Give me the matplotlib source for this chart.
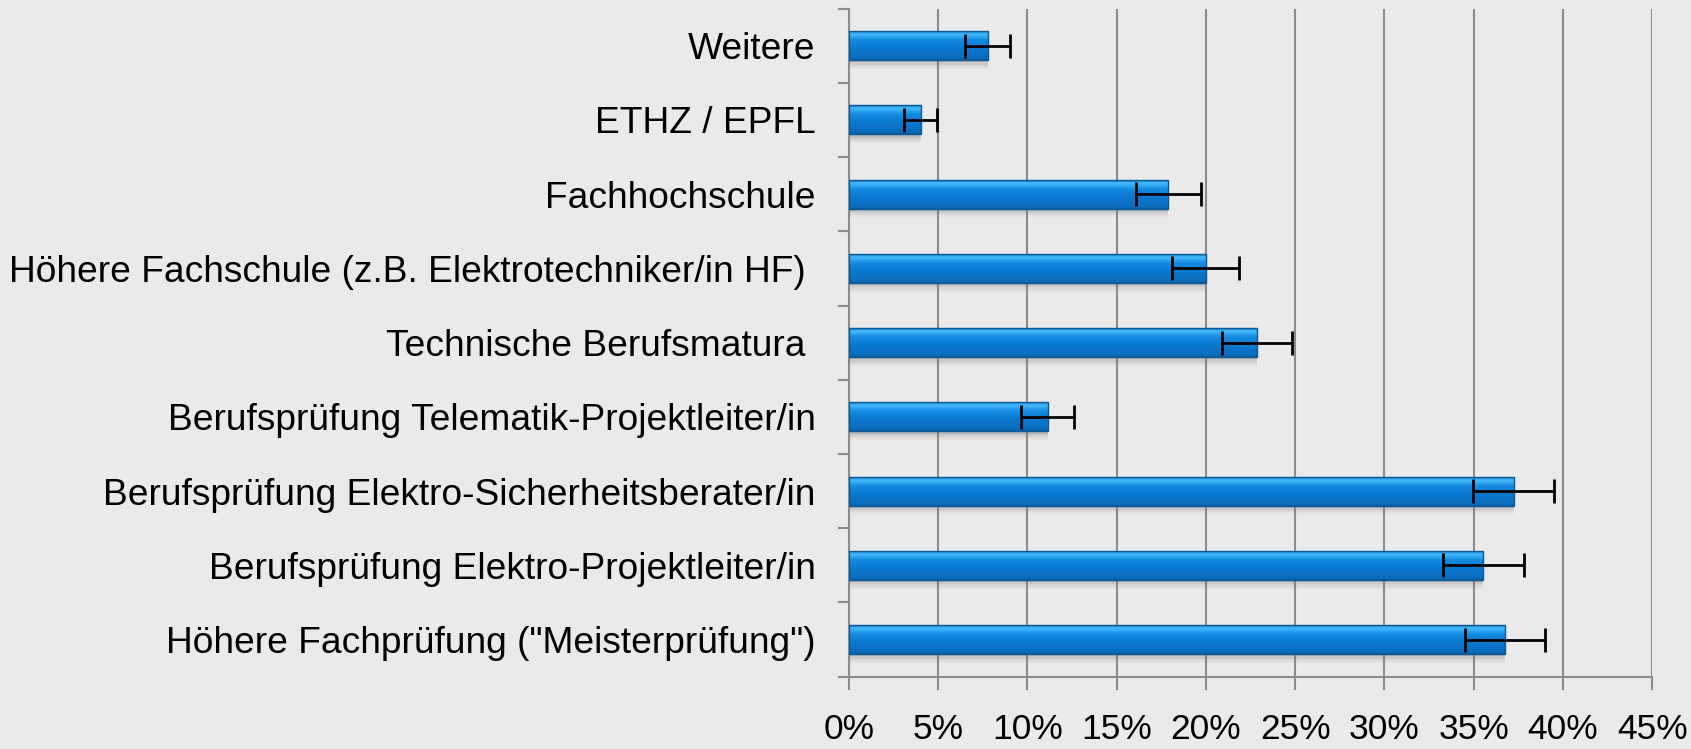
import numpy as np
import matplotlib
matplotlib.use("Agg")
import matplotlib.pyplot as plt
from matplotlib.ticker import FixedLocator
from matplotlib.colors import LinearSegmentedColormap

categories = [
    'Höhere Fachprüfung ("Meisterprüfung")',
    "Berufsprüfung Elektro-Projektleiter/in",
    "Berufsprüfung Elektro-Sicherheitsberater/in",
    "Berufsprüfung Telematik-Projektleiter/in",
    "Technische Berufsmatura ",
    "Höhere Fachschule (z.B. Elektrotechniker/in HF) ",
    "Fachhochschule",
    "ETHZ / EPFL",
    "Weitere",
]
values = [36.75, 35.55, 37.25, 11.15, 22.85, 19.98, 17.9, 4.03, 7.78]
errors = [2.25, 2.25, 2.28, 1.48, 1.97, 1.88, 1.8, 0.93, 1.26]
xtick_values = [0, 5, 10, 15, 20, 25, 30, 35, 40, 45]
xtick_labels = [f"{v}%" for v in xtick_values]

plt.rcParams["font.family"] = ["Liberation Sans", "DejaVu Sans"]
bg = "#EAEAEA"
fig = plt.figure(figsize=(16.91, 7.49), dpi=100, facecolor=bg)
ax = fig.add_axes([0.502, 0.0965, 0.475, 0.892], facecolor=bg)

y = np.arange(len(categories))
h = 0.39

# soft shadow below bars
for k, a in zip([0.03, 0.06, 0.09, 0.12], [0.22, 0.16, 0.10, 0.06]):
    ax.barh(y - k, values, height=h, color="#7a7a7a", alpha=a, zorder=2, linewidth=0)

bars = ax.barh(y, values, height=h, color="#0A7AD2", linewidth=0, zorder=3)

grad = np.linspace(0, 1, 128).reshape(-1, 1)
cmap = LinearSegmentedColormap.from_list(
    "bevel",
    [(0.0, "#0A5C9C"), (0.06, "#0A6CBC"), (0.45, "#0B7AD2"), (0.70, "#168CE2"),
     (0.80, "#2EA6F0"), (0.89, "#46BAFA"), (0.95, "#2E9EEA"), (1.0, "#1478C4")],
)
for yi, v, b in zip(y, values, bars):
    im = ax.imshow(grad, extent=(0, v, yi - h / 2, yi + h / 2), origin="lower",
                   cmap=cmap, aspect="auto", zorder=3.5, interpolation="bilinear")
    im.set_clip_path(b)
    ax.barh(yi, v, height=h, fill=False, edgecolor="#0B5A96", linewidth=1.0, zorder=3.6)

ax.errorbar(values, y, xerr=errors, fmt="none", ecolor="black", elinewidth=2,
            capsize=8.5, capthick=2, zorder=5)

ax.set_xlim(0, 45)
ax.set_ylim(-0.5, len(categories) - 0.5)
ax.xaxis.set_major_locator(FixedLocator(xtick_values))
ax.set_xticklabels(xtick_labels, fontsize=25.5)
ax.grid(axis="x", color="#8C8C8C", linewidth=1.5, zorder=1)
ax.set_axisbelow(True)

ax.set_yticks(y)
ax.set_yticklabels(categories, fontsize=26.7)
ax.tick_params(axis="y", length=0, pad=24)
ax.yaxis.set_minor_locator(FixedLocator(np.arange(-0.5, len(categories), 1.0)))
ax.tick_params(axis="y", which="minor", length=8, width=1.5, color="#8C8C8C", direction="out")
ax.tick_params(axis="x", length=9, width=1.5, color="#8C8C8C", pad=17, direction="out")

for s in ["top", "right"]:
    ax.spines[s].set_visible(False)
for s in ["left", "bottom"]:
    ax.spines[s].set_color("#8C8C8C")
    ax.spines[s].set_linewidth(1.5)

fig.savefig("out.png", dpi=100, facecolor=bg)
